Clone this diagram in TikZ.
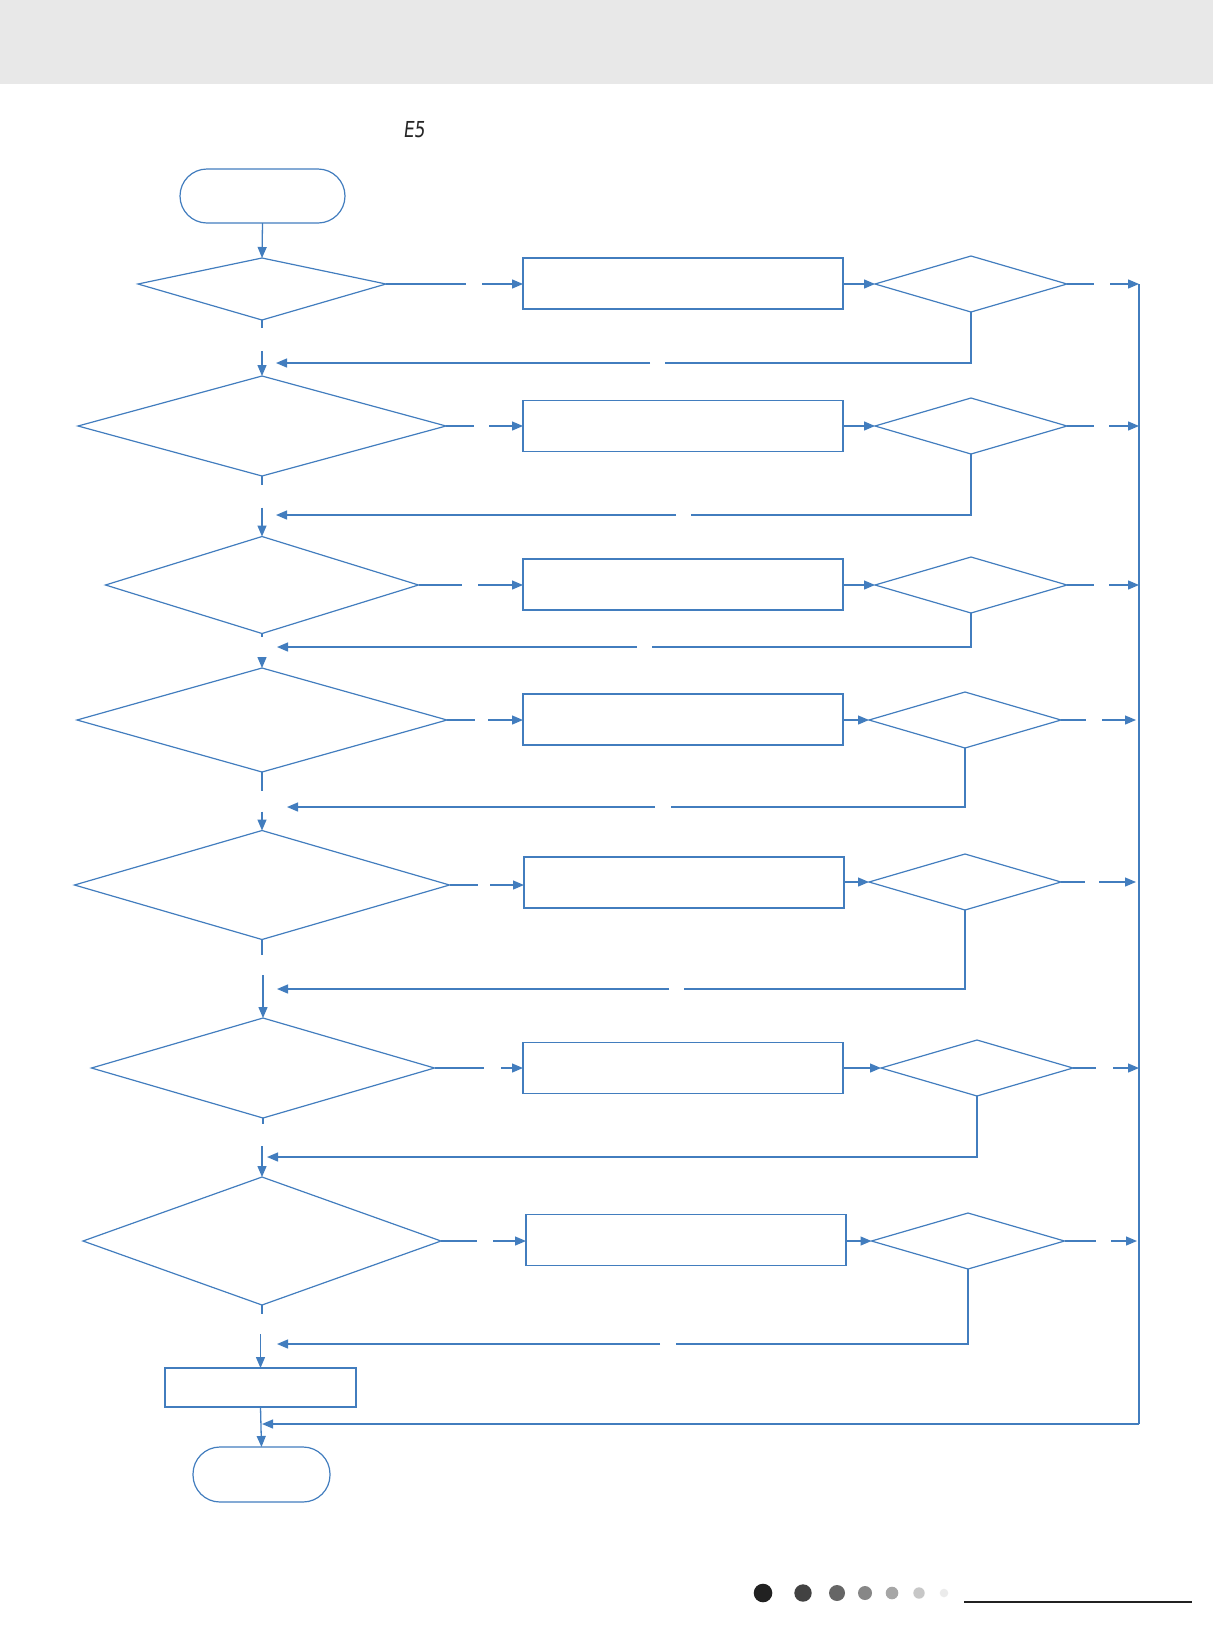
\documentclass[tikz,border=0pt]{standalone}
\usepackage{fontspec}
\usetikzlibrary{shapes.geometric,arrows.meta,calc}
\definecolor{fl}{RGB}{66,125,190}
\definecolor{hdr}{RGB}{232,232,232}
\newfontfamily\segfont[FakeSlant=0.12,FakeStretch=0.78]{DejaVu Sans}
\begin{document}
\begin{tikzpicture}[x=1pt,y=-1pt,
  ln/.style={draw=fl,line width=1.3pt},
  arr/.style={ln,-{Triangle[length=11pt,width=9pt]}},
  dia/.style 2 args={shape=diamond,draw=fl,line width=1.2pt,inner sep=0pt,outer sep=0pt,minimum width=#1,minimum height=#2},
  boxn/.style={shape=rectangle,draw=fl,line width=1.2pt,inner sep=0pt,outer sep=0pt,minimum width=320,minimum height=51},
  term/.style 2 args={shape=rectangle,draw=fl,line width=1.2pt,inner sep=0pt,outer sep=0pt,rounded corners=27,minimum width=#1,minimum height=#2}]
\useasboundingbox (0,0) rectangle (1213,1644);
\fill[hdr] (0,0) rectangle (1213,84);
\node[font=\segfont\fontsize{22}{22}\selectfont,text=black!85,inner sep=0pt] (e5) at (414,130) {E5};

% terminals
\node[term={165}{54}] (start) at (262.5,196) {};
\node[term={137}{55}] (stop) at (261.5,1474.5) {};

% big decision 1 (drawn directly, vertex above middle)
\coordinate (d1w) at (138,284);
\coordinate (d1e) at (386,284);
\coordinate (d1n) at (262,258);
\coordinate (d1s) at (262,320);
\draw[draw=fl,line width=1.2pt,line join=miter] (d1n) -- (d1e) -- (d1s) -- (d1w) -- cycle;

% big decisions 2-7
\node[dia={368}{100}] (d2) at (262,426) {};
\node[dia={313}{97}]  (d3) at (262,585) {};
\node[dia={370}{104}] (d4) at (262,720) {};
\node[dia={375}{109}] (d5) at (262,885) {};
\node[dia={343}{100}] (d6) at (263,1068) {};
\node[dia={358}{128}] (d7) at (262,1241) {};

% process boxes
\node[boxn] (b1) at (683,283.5) {};
\node[boxn] (b2) at (683,426) {};
\node[boxn] (b3) at (683,584.5) {};
\node[boxn] (b4) at (683,719.5) {};
\node[boxn] (b5) at (684,882.5) {};
\node[boxn] (b6) at (683,1068) {};
\node[boxn] (b7) at (686,1240) {};
\node[shape=rectangle,draw=fl,line width=1.2pt,inner sep=0pt,outer sep=0pt,minimum width=191,minimum height=39] (fin) at (260.5,1387.5) {};

% small decisions
\node[dia={192}{56}] (s1) at (971,284) {};
\node[dia={192}{56}] (s2) at (971,426) {};
\node[dia={192}{56}] (s3) at (971,585) {};
\node[dia={192}{56}] (s4) at (965,720) {};
\node[dia={192}{56}] (s5) at (965,882) {};
\node[dia={192}{56}] (s6) at (977,1068) {};
\node[dia={193}{56}] (s7) at (968,1241) {};

% bus corner points
\coordinate (bustop) at (1139,284);
\coordinate (busbot) at (1139,1424);
\coordinate (busend) at (262,1424);
\draw[draw=fl,line width=1.8pt] (bustop) -- (busbot);
\draw[arr,line width=1.4pt] (busbot) -- (busend);

% main column
\draw[arr] (start.south) -- (d1n);
\draw[ln] (d1s) -- ++(0,8);
\draw[arr] ($(d2.north)+(0,-25)$) -- (d2.north);
\draw[ln] (d2.south) -- ++(0,9);
\draw[arr] ($(d3.north)+(0,-29)$) -- (d3.north);
\draw[ln] (d3.south) -- ++(0,3);
\draw[arr] ($(d4.north)+(0,-11)$) -- (d4.north);
\draw[ln] (d4.south) -- ++(0,19);
\draw[arr] ($(d5.north)+(0,-19)$) -- (d5.north);
\draw[ln] (d5.south) -- ++(0,15);
\draw[arr] ($(d6.north)+(0,-43)$) -- (d6.north);
\draw[ln] (d6.south) -- ++(0,6);
\draw[arr] ($(d7.north)+(0,-31)$) -- (d7.north);
\draw[ln] (d7.south) -- ++(0,9);
\draw[arr] ($(fin.north)+(0,-34)$) -- (fin.north);
\draw[arr] (fin.south) -- (stop.north);

% decision -> box (with gap)
\draw[ln] (d1e) -- ++(80,0);
\draw[arr] ($(b1.west |- d1e)+(-41,0)$) -- (b1.west |- d1e);
\draw[ln] (d2.east) -- ++(28,0);
\draw[arr] ($(b2.west)+(-34,0)$) -- (b2.west);
\draw[ln] (d3.east) -- ++(43,0);
\draw[arr] ($(b3.west |- d3.east)+(-45,0)$) -- (b3.west |- d3.east);
\draw[ln] (d4.east) -- ++(28,0);
\draw[arr] ($(b4.west |- d4.east)+(-35,0)$) -- (b4.west |- d4.east);
\draw[ln] (d5.east) -- ++(28,0);
\draw[arr] ($(b5.west |- d5.east)+(-34,0)$) -- (b5.west |- d5.east);
\draw[ln] (d6.east) -- ++(49,0);
\draw[arr] ($(b6.west)+(-22,0)$) -- (b6.west);
\draw[ln] (d7.east) -- ++(36,0);
\draw[arr] ($(b7.west |- d7.east)+(-33,0)$) -- (b7.west |- d7.east);

% box -> small decision
\draw[arr] (b1.east |- s1.west) -- (s1.west);
\draw[arr] (b2.east) -- (s2.west);
\draw[arr] (b3.east |- s3.west) -- (s3.west);
\draw[arr] (b4.east |- s4.west) -- (s4.west);
\draw[arr] (b5.east |- s5.west) -- (s5.west);
\draw[arr] (b6.east) -- (s6.west);
\draw[arr] (b7.east |- s7.west) -- (s7.west);

% small decision -> bus (with gap)
\draw[ln] (s1.east) -- ++(27,0);
\draw[arr] ($(bustop |- s1.east)+(-29,0)$) -- (bustop |- s1.east);
\draw[ln] (s2.east) -- ++(27,0);
\draw[arr] ($(bustop |- s2.east)+(-30,0)$) -- (bustop |- s2.east);
\draw[ln] (s3.east) -- ++(27,0);
\draw[arr] ($(bustop |- s3.east)+(-30,0)$) -- (bustop |- s3.east);
\draw[ln] (s4.east) -- ++(25,0);
\draw[arr] ($(bustop |- s4.east)+(-37,0)$) -- ($(bustop |- s4.east)+(-3,0)$);
\draw[ln] (s5.east) -- ++(24,0);
\draw[arr] ($(bustop |- s5.east)+(-40,0)$) -- ($(bustop |- s5.east)+(-3,0)$);
\draw[ln] (s6.east) -- ++(23,0);
\draw[arr] ($(bustop |- s6.east)+(-26,0)$) -- (bustop |- s6.east);
\draw[ln] (s7.east) -- ++(31,0);
\draw[arr] ($(bustop |- s7.east)+(-28,0)$) -- ($(bustop |- s7.east)+(-2,0)$);

% loops back to main column
\coordinate (j1) at (276,363);
\coordinate (j2) at (276,515);
\coordinate (j3) at (277,647);
\coordinate (j4) at (287,807);
\coordinate (j5) at (277,989);
\coordinate (j6) at (267,1157);
\coordinate (j7) at (277,1344);
\draw[ln] (s1.south) |- ($(j1)+(389,0)$);
\draw[arr] ($(j1)+(374,0)$) -- (j1);
\draw[ln] (s2.south) |- ($(j2)+(415,0)$);
\draw[arr] ($(j2)+(400,0)$) -- (j2);
\draw[ln] (s3.south) |- ($(j3)+(375,0)$);
\draw[arr] ($(j3)+(360,0)$) -- (j3);
\draw[ln] (s4.south) |- ($(j4)+(384,0)$);
\draw[arr] ($(j4)+(368,0)$) -- (j4);
\draw[ln] (s5.south) |- ($(j5)+(407,0)$);
\draw[arr] ($(j5)+(392,0)$) -- (j5);
\draw[arr] (s6.south) |- (j6);
\draw[ln] (s7.south) |- ($(j7)+(399,0)$);
\draw[arr] ($(j7)+(383,0)$) -- (j7);

% footer
\fill[black!87] (763,1593) circle (9.3);
\fill[black!74] (803,1593) circle (8.7);
\fill[black!60] (837,1593) circle (8);
\fill[black!47] (865,1593) circle (7);
\fill[black!35] (892,1593) circle (6.3);
\fill[black!22] (919,1593) circle (5.7);
\fill[black!8] (944,1593) circle (4.3);
\draw[line width=2pt,black!87] (964,1602) -- (1192,1602);
\end{tikzpicture}
\end{document}
